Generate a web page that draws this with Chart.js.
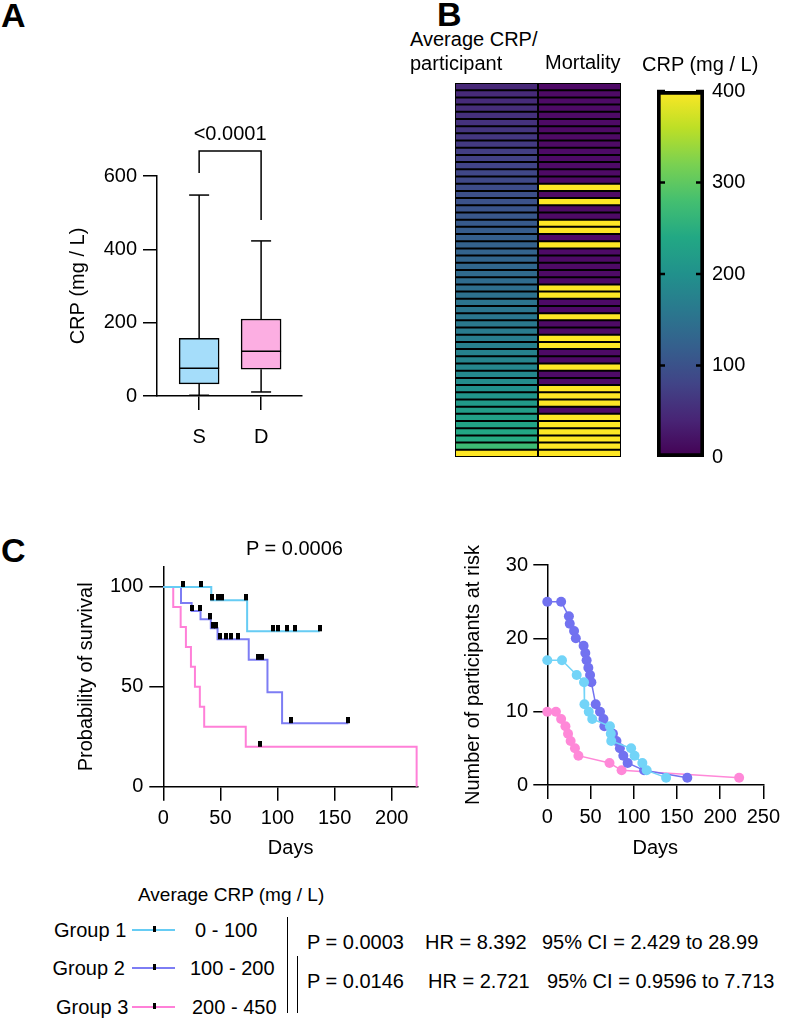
<!DOCTYPE html>
<html>
<head>
<meta charset="utf-8">
<script src="https://cdn.jsdelivr.net/npm/chart.js@4.4.1/dist/chart.umd.min.js"></script>
<style>
  body { margin: 0; background: #fff; font-family: "Liberation Sans", Arial, sans-serif; }
  #page { position: relative; width: 786px; height: 1018px; overflow: hidden; background: #fff; }
  .t { position: absolute; white-space: nowrap; color: #000; }
  .r { position: absolute; }
</style>
</head>
<body>
<div id="page"></div>
<script>
// ---- panel A: box plot (CRP mg/L) ----
const boxGroups = ['S', 'D'];
const boxMin = [2, 11];
const boxQ1 = [33, 73];
const boxMed = [76, 122];
const boxQ3 = [157, 210];
const boxMax = [548, 423];
const boxTicks = [0, 600, 200];          // min, max, step
const bracketLeft = 608, bracketTop = 668, bracketRight = 480;
const pLabelA = '<0.0001';

// ---- panel B: heatmap, one row per participant ----
const crpAvg = [45, 47, 49, 52, 55, 58, 61, 64, 68, 72,
                76, 80, 84, 88, 92, 96, 100, 104, 108, 112,
                116, 120, 124, 127, 130, 133, 137, 141, 145, 149,
                153, 156, 159, 162, 165, 168, 172, 176, 180, 184,
                188, 193, 200, 207, 214, 220, 226, 232, 238, 245,
                272, 430];
const mortality = [0, 0, 0, 0, 0, 0, 0, 0, 0, 0,
                   0, 0, 0, 0, 1, 0, 1, 0, 0, 1,
                   1, 0, 1, 0, 0, 0, 0, 0, 1, 1,
                   0, 0, 1, 0, 0, 1, 1, 0, 0, 1,
                   0, 0, 1, 1, 1, 0, 1, 1, 1, 1,
                   1, 1];
const colorTicks = [0, 100, 200, 300, 400];

// ---- panel C: Kaplan-Meier ----
const kmGroups = ['Group 1', 'Group 2', 'Group 3'];
const km1Days = [0, 42, 73.4, 137];
const km1Surv = [100, 93.3, 77.8, 77.8];
const km1CensDays = [17, 33, 42.5, 48, 51.5, 72.2, 95.8, 100.4, 108.6, 115, 137];
const km1CensSurv = [100, 100, 93.3, 93.3, 93.3, 93.3, 77.8, 77.8, 77.8, 77.8, 77.8];
const km2Days = [0, 15.5, 24.8, 32.6, 41.6, 47.5, 74.8, 91.2, 104, 162];
const km2Surv = [100, 92, 88, 83.8, 79.3, 73.8, 63.5, 47.3, 31.8, 31.8];
const km2CensDays = [25, 32, 41, 43.7, 45.8, 49.5, 54.5, 59.7, 65, 83, 86.8, 112, 161.6];
const km2CensSurv = [88, 88, 83.8, 79.3, 79.3, 73.8, 73.8, 73.8, 73.8, 63.5, 63.5, 31.8, 31.8];
const km3Days = [0, 8.7, 15.2, 19.8, 24.2, 27.7, 32, 35.8, 72.2, 221.8];
const km3Surv = [100, 90, 80, 70, 60, 50, 40, 30, 20, 0];
const km3CensDays = [85];
const km3CensSurv = [20];

// ---- panel C: number at risk ----
const risk1Days = [0, 17, 34, 42.5, 43, 48, 52, 72.5, 73.5, 74, 97, 101, 110, 115, 137.5];
const risk1N = [17, 17, 15, 14, 11, 10, 9, 8, 7, 6, 5, 4, 3, 2, 1];
const risk2Days = [0, 16, 25, 26, 31, 33, 42, 44, 45.5, 47.5, 49.5, 51, 56, 61, 65, 66, 76, 80, 84, 88, 93, 112, 162];
const risk2N = [25, 25, 23, 22, 21, 20, 19, 18, 17, 16, 15, 14, 11, 10, 9, 8, 7, 6, 5, 4, 3, 2, 1];
const risk3Days = [0, 10, 16, 21, 24, 27, 32, 36, 72, 86, 222];
const risk3N = [10, 10, 9, 8, 7, 6, 5, 4, 3, 2, 1];

const groupRanges = ['0 - 100', '100 - 200', '200 - 450'];
const hrRows = [
  ['P = 0.0003', 'HR = 8.392', '95% CI = 2.429 to 28.99'],
  ['P = 0.0146', 'HR = 2.721', '95% CI = 0.9596 to 7.713']
];

// colours
const kmColors = ['#66ccf4', '#7d7df4', '#ff80d8'];
const riskColors = ['#72d4f8', '#7272f0', '#ff88d8'];
const boxColors = ['#a5ddfa', '#fcaee2'];
const viridisStops = ['#440154', '#482475', '#414487', '#355f8d', '#2a788e', '#21918c',
                      '#22a884', '#44bf70', '#7ad151', '#bddf26', '#fde725'];
const deadColor = '#fde725', aliveColor = '#4e0a66';

Chart.defaults.font.family = '"Liberation Sans", Arial, sans-serif';
Chart.defaults.font.size = 20;
Chart.defaults.color = '#000';
Chart.defaults.animation = false;
Chart.defaults.plugins.legend.display = false;
Chart.defaults.plugins.tooltip.enabled = false;

const page = document.getElementById('page');

function hex(c) { return [1, 3, 5].map(i => parseInt(c.slice(i, i + 2), 16)); }
function viridis(t) {
  t = Math.max(0, Math.min(1, t)) * (viridisStops.length - 1);
  const i = Math.min(Math.floor(t), viridisStops.length - 2), f = t - i;
  const a = hex(viridisStops[i]), b = hex(viridisStops[i + 1]);
  return 'rgb(' + a.map((v, k) => Math.round(v + (b[k] - v) * f)).join(',') + ')';
}

function addText(txt, x, yc, size, bold) {
  const d = document.createElement('div');
  d.className = 't';
  d.textContent = txt;
  d.style.left = x + 'px';
  d.style.top = (yc - size / 2) + 'px';
  d.style.fontSize = size + 'px';
  d.style.lineHeight = size + 'px';
  if (bold) d.style.fontWeight = 'bold';
  page.appendChild(d);
}
function addRect(x, y, w, h, color) {
  const d = document.createElement('div');
  d.className = 'r';
  d.style.cssText += `left:${x}px;top:${y}px;width:${w}px;height:${h}px;background:${color}`;
  page.appendChild(d);
}
function addCanvas(x, y, w, h) {
  const c = document.createElement('canvas');
  c.width = w; c.height = h;
  c.style.cssText = `position:absolute;left:${x}px;top:${y}px;width:${w}px;height:${h}px`;
  page.appendChild(c);
  return c;
}
// padding so that the chart area lands on a given page rectangle
function frame(c, a, xH) {
  return {
    padding: { left: 0, top: a.t - c.y, right: c.x + c.w - a.r, bottom: c.y + c.h - a.b - xH },
    yW: a.l - c.x
  };
}
function axis(min, max, step, title, titlePad, fit, tickPad, cb) {
  return {
    type: 'linear', min, max, offset: false,
    border: { color: '#000', width: 1.5 },
    grid: { drawOnChartArea: false, drawTicks: true, tickLength: 14, color: '#000', lineWidth: 1.5, offset: false },
    ticks: { stepSize: step, includeBounds: false, padding: tickPad, color: '#000', font: { size: 20 },
             maxRotation: 0, autoSkip: false, callback: cb || (v => v) },
    title: { display: !!title, text: title || '', color: '#000', font: { size: 20 }, padding: titlePad },
    afterFit: fit
  };
}
function line(ctx, x1, y1, x2, y2) {
  ctx.beginPath(); ctx.moveTo(x1, y1); ctx.lineTo(x2, y2); ctx.stroke();
}

// ---------- Panel A ----------
(function () {
  const c = { x: 40, y: 110, w: 290, h: 350 };
  const f = frame(c, { l: 157, t: 176, r: 302, b: 396 }, 50);
  const boxExtras = {
    id: 'boxExtras',
    afterDatasetsDraw(chart) {
      const { ctx, scales: { x, y } } = chart;
      const bars = chart.getDatasetMeta(0).data;
      ctx.save();
      ctx.strokeStyle = '#000';
      ctx.lineWidth = 1.5;
      boxGroups.forEach((g, i) => {
        const cx = x.getPixelForValue(i);
        const half = bars[i].width / 2;
        const yMax = y.getPixelForValue(boxMax[i]), yMin = y.getPixelForValue(boxMin[i]);
        line(ctx, cx, y.getPixelForValue(boxQ3[i]), cx, yMax);
        line(ctx, cx, y.getPixelForValue(boxQ1[i]), cx, yMin);
        line(ctx, cx - half / 2, yMax, cx + half / 2, yMax);
        line(ctx, cx - half / 2, yMin, cx + half / 2, yMin);
        const ym = y.getPixelForValue(boxMed[i]);
        line(ctx, cx - half, ym, cx + half, ym);
      });
      const xa = x.getPixelForValue(0), xb = x.getPixelForValue(1);
      const top = y.getPixelForValue(bracketTop);
      ctx.beginPath();
      ctx.moveTo(xa, y.getPixelForValue(bracketLeft));
      ctx.lineTo(xa, top); ctx.lineTo(xb, top);
      ctx.lineTo(xb, y.getPixelForValue(bracketRight));
      ctx.stroke();
      ctx.fillStyle = '#000';
      ctx.font = '20px "Liberation Sans", Arial, sans-serif';
      ctx.textAlign = 'center';
      ctx.textBaseline = 'alphabetic';
      ctx.fillText(pLabelA, (xa + xb) / 2, top - 11);
      ctx.restore();
    }
  };
  new Chart(addCanvas(c.x, c.y, c.w, c.h), {
    type: 'bar',
    data: {
      datasets: [{
        data: boxGroups.map((g, i) => ({ x: i, y: [boxQ1[i], boxQ3[i]] })),
        backgroundColor: boxColors,
        borderColor: '#000', borderWidth: 1.5, borderSkipped: false,
        barThickness: 40
      }]
    },
    options: {
      responsive: false,
      layout: { padding: f.padding },
      scales: {
        x: axis(-0.68, 1.66, 1, '', 0, s => { s.height = 50; }, 15, v => boxGroups[v] || ''),
        y: axis(boxTicks[0], boxTicks[1], boxTicks[2], 'CRP (mg / L)', { top: 26 }, s => { s.width = f.yW; }, 6)
      }
    },
    plugins: [boxExtras]
  });
})();

// ---------- Panel B: heatmap ----------
(function () {
  const c = { x: 440, y: 75, w: 200, h: 390 };
  // black underlay so the thin cell borders stay solid black
  const underlay = {
    id: 'underlay',
    beforeDatasetsDraw(chart) {
      const { ctx, chartArea: a } = chart;
      ctx.save();
      ctx.fillStyle = '#000';
      ctx.fillRect(a.left, a.top, a.right - a.left, a.bottom - a.top);
      ctx.restore();
    }
  };
  new Chart(addCanvas(c.x, c.y, c.w, c.h), {
    type: 'bar',
    data: {
      labels: crpAvg.map((v, i) => i + 1),
      datasets: [
        { label: 'Average CRP/participant', data: crpAvg.map(() => 1),
          backgroundColor: crpAvg.map(v => viridis(v / colorTicks[colorTicks.length - 1])) },
        { label: 'Mortality', data: mortality.map(() => 1),
          backgroundColor: mortality.map(m => m ? deadColor : aliveColor) }
      ]
    },
    options: {
      responsive: false,
      indexAxis: 'y',
      layout: { padding: { left: 15, top: 8, right: 19, bottom: 8 } },
      datasets: { bar: { barPercentage: 1, categoryPercentage: 1, borderWidth: 1,
                         borderColor: '#000', borderSkipped: false, inflateAmount: 0 } },
      scales: {
        x: { stacked: true, display: false, min: 0, max: 2 },
        y: { stacked: true, display: false }
      }
    },
    plugins: [underlay]
  });
})();

// ---------- Panel B: colour bar ----------
(function () {
  const c = { x: 630, y: 70, w: 156, h: 410 };
  const innerTicks = {
    id: 'innerTicks',
    afterDatasetsDraw(chart) {
      const { ctx, chartArea: a, scales: { y } } = chart;
      ctx.save();
      ctx.strokeStyle = '#000';
      ctx.lineWidth = 2.5;
      colorTicks.slice(1).forEach(v => {
        const py = y.getPixelForValue(v);
        line(ctx, a.left, py, a.left + 8, py);
        line(ctx, a.right - 8, py, a.right, py);
      });
      ctx.restore();
    }
  };
  new Chart(addCanvas(c.x, c.y, c.w, c.h), {
    type: 'bar',
    data: {
      labels: ['CRP'],
      datasets: [{
        data: [[colorTicks[0], colorTicks[colorTicks.length - 1]]],
        backgroundColor: (cx) => {
          const ch = cx.chart, y = ch.scales.y;
          if (!ch.chartArea || !y) return viridisStops[5];
          const g = ch.ctx.createLinearGradient(0, y.getPixelForValue(colorTicks[0]), 0,
                                                y.getPixelForValue(colorTicks[colorTicks.length - 1]));
          viridisStops.forEach((col, i) => g.addColorStop(i / (viridisStops.length - 1), col));
          return g;
        },
        borderColor: '#000', borderWidth: 4, borderSkipped: false,
        barPercentage: 1, categoryPercentage: 1
      }]
    },
    options: {
      responsive: false,
      layout: { padding: { left: 27, top: 21, right: 0, bottom: 23 } },
      scales: {
        x: { display: false },
        y: {
          position: 'right', min: colorTicks[0], max: colorTicks[colorTicks.length - 1],
          grid: { display: false, drawTicks: false },
          border: { display: false },
          ticks: { stepSize: 100, padding: 8, color: '#000', font: { size: 20 } },
          afterFit: s => { s.width = 82; }
        }
      }
    },
    plugins: [innerTicks]
  });
})();

// ---------- Panel C: Kaplan-Meier ----------
(function () {
  const c = { x: 40, y: 530, w: 400, h: 345 };
  const f = frame(c, { l: 163.3, t: 567, r: 418, b: 786.7 }, 80);
  const tick = document.createElement('canvas');
  tick.width = 4; tick.height = 12;
  const tc = tick.getContext('2d');
  tc.fillStyle = '#000';
  tc.fillRect(0, 0, 4, 6);
  const curves = [[km1Days, km1Surv], [km2Days, km2Surv], [km3Days, km3Surv]];
  const cens = [[km1CensDays, km1CensSurv], [km2CensDays, km2CensSurv], [km3CensDays, km3CensSurv]];
  const ds = [];
  cens.forEach(([d, s], i) => ds.push({
    label: kmGroups[i] + ' censored', order: 0,
    data: d.map((x, j) => ({ x, y: s[j] })),
    showLine: false, pointStyle: tick, pointRadius: 3, clip: false
  }));
  curves.forEach(([d, s], i) => ds.push({
    label: kmGroups[i], order: 1,
    data: d.map((x, j) => ({ x, y: s[j] })),
    borderColor: kmColors[i], borderWidth: 2, pointRadius: 0, stepped: true, fill: false, clip: false
  }));
  new Chart(addCanvas(c.x, c.y, c.w, c.h), {
    type: 'line',
    data: { datasets: ds },
    options: {
      responsive: false,
      layout: { padding: f.padding },
      scales: {
        x: axis(0, 223, 50, 'Days', { top: 0, bottom: 6.7 }, s => { s.height = 80; }, 6),
        y: axis(0, 110, 50, 'Probability of survival', { top: 34.5 }, s => { s.width = f.yW; }, 6)
      }
    }
  });
})();

// ---------- Panel C: number at risk ----------
(function () {
  const c = { x: 440, y: 530, w: 346, h: 345 };
  const f = frame(c, { l: 547.3, t: 565, r: 769, b: 785 }, 80);
  const series = [[risk1Days, risk1N], [risk2Days, risk2N], [risk3Days, risk3N]];
  new Chart(addCanvas(c.x, c.y, c.w, c.h), {
    type: 'line',
    data: {
      datasets: series.map(([d, n], i) => ({
        label: kmGroups[i],
        data: d.map((x, j) => ({ x, y: n[j] })),
        borderColor: riskColors[i], backgroundColor: riskColors[i],
        pointBackgroundColor: riskColors[i], pointBorderWidth: 0,
        pointRadius: 5, borderWidth: 1.5, tension: 0, fill: false, clip: false
      }))
    },
    options: {
      responsive: false,
      layout: { padding: f.padding },
      scales: {
        x: axis(0, 250, 50, 'Days', { top: 0, bottom: 4.5 }, s => { s.height = 80; }, 6),
        y: axis(0, 30, 10, 'Number of participants at risk', { top: 21 }, s => { s.width = f.yW; }, 5.3)
      }
    }
  });
})();

// ---------- text, labels, legend ----------
addText('A', 1, 15, 34, true);
addText('B', 437, 14, 34, true);
addText('C', 1, 549.5, 34, true);
addText('Average CRP/', 410, 38.5, 20);
addText('participant', 410, 62.5, 20);
addText('Mortality', 545, 61.5, 20);
addText('CRP (mg / L)', 642, 64, 20);
addText('P = 0.0006', 246, 547.5, 20);

addText('Average CRP (mg / L)', 138, 894, 19);
const legendY = [930, 968, 1007];
const groupLeft = [54, 52.5, 56];
const rangeLeft = [195, 190, 192];
kmGroups.forEach((g, i) => {
  addText(g, groupLeft[i], legendY[i], 20);
  addRect(132, legendY[i] - 1.25, 43, 2.5, kmColors[i]);
  addRect(153, legendY[i] - 4, 3, 6, '#000');
  addText(groupRanges[i], rangeLeft[i], legendY[i], 20);
});
addRect(286.5, 917, 1.5, 96, '#000');
addRect(296.5, 956, 1.5, 57, '#000');
const hrY = [942, 981];
const hrLeft = [[307, 425, 542], [307, 428, 547]];
hrRows.forEach((row, r) => row.forEach((s, k) => addText(s, hrLeft[r][k], hrY[r], 20)));
</script>
</body>
</html>
